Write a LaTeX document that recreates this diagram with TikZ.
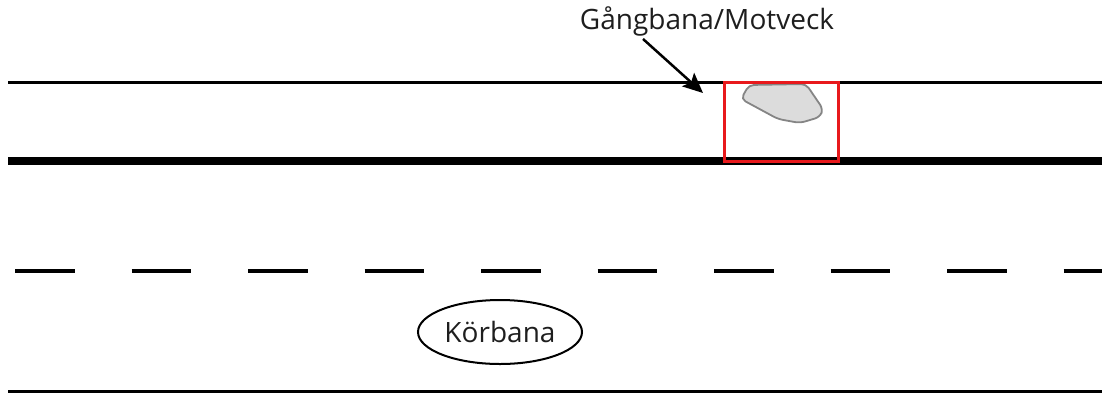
\documentclass[tikz,border=0pt]{standalone}
\usepackage{fontspec}
\setmainfont{Open Sans}
\usepackage{tikz}
\usetikzlibrary{
    shapes, shapes.geometric,
    arrows.meta, positioning, calc
}
\definecolor{roadBlack}{HTML}{000000}
\definecolor{textDark}{HTML}{1E1E1E}
\definecolor{markRed}{HTML}{E8191C}
\definecolor{blobFill}{HTML}{DCDCDC}
\definecolor{blobEdge}{HTML}{858585}
\tikzset{
    edgeline/.style={draw=roadBlack, line width=3pt},
    curbline/.style={draw=roadBlack, line width=8pt},
    laneline/.style={draw=roadBlack, line width=3.2pt, dash pattern=on 59.5pt off 57pt},
    label/.style={font=\fontsize{28}{32}\selectfont, text=textDark, inner sep=3pt},
}

\begin{document}
\begin{tikzpicture}[x=1pt, y=-1pt]
        \useasboundingbox (0,0) rectangle (1102,394);

        % The sidewalk edges
        \draw[edgeline] (8,82) -- (1102,82);
        \draw[curbline] (8,161) -- (1102,161);

        % The lane marking
        \draw[laneline] (15,271) -- (1102,271);

        % The road edge
        \draw[edgeline] (8,391) -- (1102,391);

        % The damage on the sidewalk
        \draw[fill=blobFill, draw=blobEdge, line width=1.8pt, rounded corners=5pt]
            (741,99) -- (749,85) -- (806,84) -- (823,109) -- (820,117)
            -- (800,123) -- (778,119) -- cycle;
        \draw[draw=markRed, line width=3pt] (724,82) rectangle (838,161);

        % Labels
        \node[label] (title) at (707,21) {Gångbana/Motveck};
        \coordinate (tip) at (703,93);
        \draw[roadBlack, line width=2.5pt, -{Stealth[length=20pt, width=18pt, inset=4pt]}]
            ([xshift=-64pt]title.south) -- (tip);

        \node[label, draw=roadBlack, line width=2pt, ellipse, inner sep=0pt,
              minimum width=164pt, minimum height=64pt] (road) at (500,332) {Körbana};
    \end{tikzpicture}
\end{document}
